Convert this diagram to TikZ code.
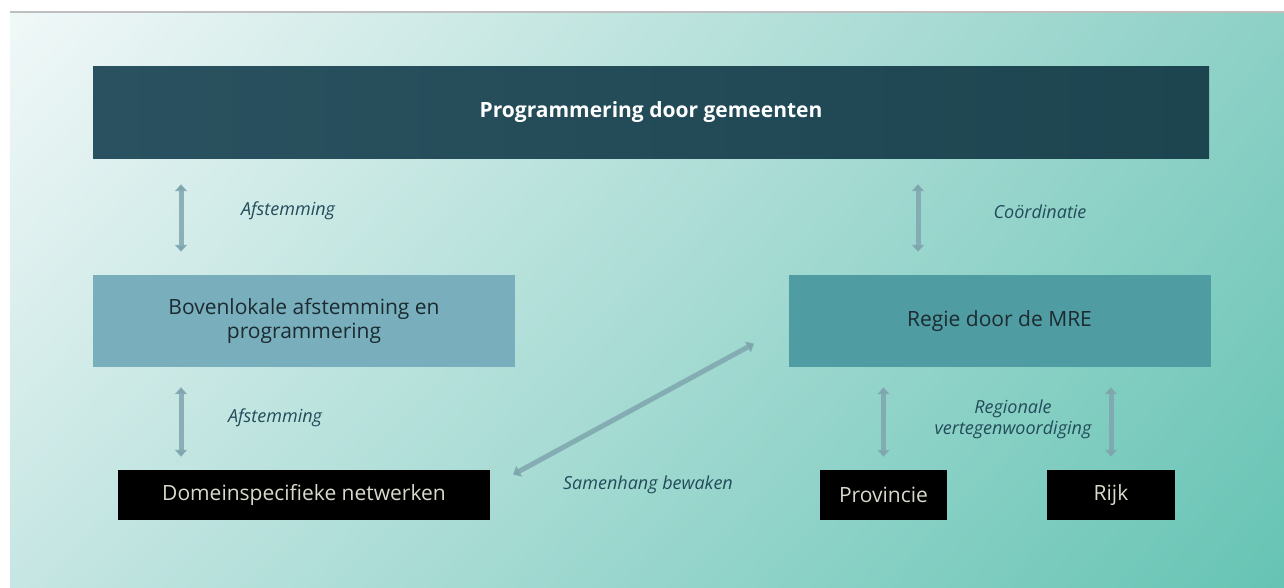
\documentclass[tikz,border=0pt]{standalone}
\usepackage{fontspec}
\setmainfont{Open Sans}
\usetikzlibrary{arrows.meta,shadings}
\definecolor{bgA}{HTML}{F1F8F8}
\definecolor{bgB}{HTML}{8DD0C6}
\definecolor{bgC}{HTML}{C6E6E3}
\definecolor{bgD}{HTML}{66C4B4}
\definecolor{topL}{HTML}{2A515F}
\definecolor{topR}{HTML}{1C4550}
\definecolor{bovfill}{HTML}{79AFBC}
\definecolor{regfill}{HTML}{4F9CA2}
\definecolor{darktext}{HTML}{1B2B31}
\definecolor{lighttext}{HTML}{D9D9CC}
\definecolor{labtext}{HTML}{234C5B}
\definecolor{arrowcol}{HTML}{7FA6AE}
\begin{document}
\begin{tikzpicture}[x=1pt,y=-1pt,join=round]
    \tikzstyle{panel} = [lower left=bgC,upper left=bgA,upper right=bgB,lower right=bgD]
    \tikzstyle{box} = [inner sep=0pt,align=center,font=\fontsize{21}{24}\selectfont]
    \tikzstyle{bluebox} = [box,minimum width=422pt,minimum height=92pt,text=darktext]
    \tikzstyle{blackbox} = [box,fill=black,minimum height=50pt,text=lighttext]
    \tikzstyle{ann} = [font=\fontsize{18}{21}\selectfont\itshape,text=labtext,align=center]
    \tikzstyle{link} = [draw=arrowcol,draw opacity=0.85,line width=5pt,
        {Triangle[width=12pt,length=7pt]}-{Triangle[width=12pt,length=7pt]}]
    \useasboundingbox (0,0) rectangle (1284,587);
    \fill[white] (0,0) rectangle (1284,587);
    \shade[panel] (10,12) rectangle (1284,587);
    \draw[line width=2pt,color=black!25] (10,12) -- (1284,12);
    \node[box,minimum width=1116pt,minimum height=92pt,text=white,
        left color=topL,right color=topR,font=\fontsize{21}{24}\selectfont\bfseries]
        (top) at (651,112) {Programmering door gemeenten};
    \node[bluebox,fill=bovfill] (bov) at (304,321) {Bovenlokale afstemming en\\programmering};
    \node[bluebox,fill=regfill] (regie) at (999.5,321) {Regie door de MRE};
    \node[blackbox,minimum width=372pt] (dom) at (304,495) {Domeinspecifieke netwerken};
    \node[blackbox,minimum width=127pt] (prov) at (883.5,495) {Provincie};
    \node[blackbox,minimum width=128pt] (rijk) at (1111,495) {Rijk};
    \draw[link,shorten <=23pt,shorten >=26pt] ([xshift=-123]bov.north) -- ([xshift=-123]bov.north |- top.south);
    \draw[link,shorten <=23pt,shorten >=26pt] ([xshift=-81.5]regie.north) -- ([xshift=-81.5]regie.north |- top.south);
    \draw[link,shorten <=20pt,shorten >=13pt] ([xshift=-123]bov.south) -- ([xshift=-123]bov.south |- dom.north);
    \draw[link,shorten <=20pt,shorten >=13pt] (prov.north |- regie.south) -- (prov.north);
    \draw[link,shorten <=20pt,shorten >=13pt] (rijk.north |- regie.south) -- (rijk.north);
    \draw[link,shorten <=26pt,shorten >=39pt] ([yshift=8]dom.east) -- ([yshift=-4]regie.west);
    \node[ann] at (288,211) {Afstemming};
    \node[ann] at (1040,212) {Coördinatie};
    \node[ann] at (275,418) {Afstemming};
    \node[ann] at (1013,419) {Regionale\\vertegenwoordiging};
    \node[ann] at (648,485) {Samenhang bewaken};
\end{tikzpicture}
\end{document}
